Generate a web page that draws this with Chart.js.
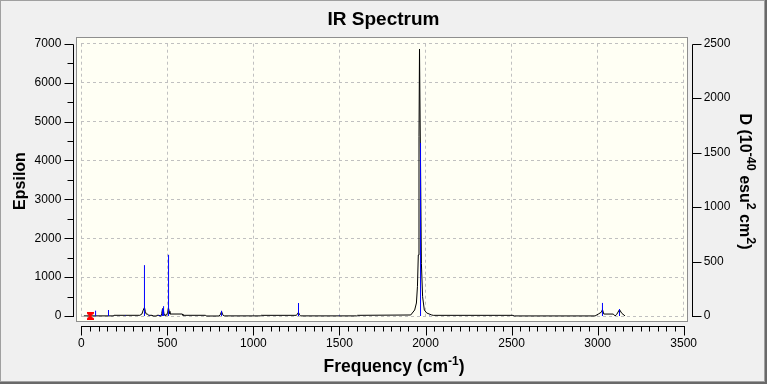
<!DOCTYPE html>
<html><head><meta charset="utf-8">
<script src="https://cdn.jsdelivr.net/npm/chart.js@4/dist/chart.umd.min.js"></script>
<style>html,body{margin:0;padding:0;background:#f0f0f0;overflow:hidden}</style>
</head><body><canvas id="c" width="767" height="384" style="display:block;width:767px;height:384px"></canvas>
<script>
// ---- data ----
const chartTitle = 'IR Spectrum';
const xTicks = [0, 500, 1000, 1500, 2000, 2500, 3000, 3500];
const yTicks = [0, 1000, 2000, 3000, 4000, 5000, 6000, 7000];
const y2Ticks = [0, 500, 1000, 1500, 2000, 2500];

const stickFreq = [83, 158, 256, 367, 397, 451, 459, 472, 478, 507, 815, 1262, 1499, 1971, 2024, 3028, 3127];
const stickD    = [49, 55, 5, 467, 6, 8, 9, 64, 90, 562, 48, 119, 3, 1589, 4, 120, 64];

const curveFreq = [15, 185, 190, 340, 352, 360, 367, 372, 377, 385, 390, 411, 414, 436, 439, 452, 455, 463, 467, 472, 477, 481, 485, 494, 501, 507, 511, 515, 587, 590, 722, 725, 800, 807, 815, 822, 830, 1040, 1045, 1250, 1255, 1262, 1268, 1275, 1600, 1605, 1914, 1937, 1947, 1953, 1958, 1962, 1965, 1976, 1983, 1993, 2007, 2036, 2045, 2509, 2515, 2985, 3004, 3022, 3028, 3036, 3091, 3101, 3110, 3127, 3140, 3159];
const curveEps  = [3, 3, 18, 18, 50, 154, 220, 120, 51, 51, 18, 18, 0, 0, 18, 18, 0, 0, 60, 190, 150, 40, 18, 18, 80, 200, 120, 51, 51, 18, 18, 0, 0, 30, 115, 30, 3, 3, 17, 17, 50, 95, 30, 3, 3, 17, 26, 154, 334, 754, 1568, 4610, 6864, 1354, 496, 154, 77, 26, 17, 17, 2, 2, 50, 100, 165, 50, 50, 3, 35, 165, 70, 3];

const markerFreq = [52];
const markerEps = [0];

// ---- build datasets ----
const curveData = curveFreq.map((f, i) => ({x: f, y: curveEps[i]}));
const stickData = [];
stickFreq.forEach((f, i) => { stickData.push({x: f, y: 0}, {x: f, y: stickD[i]}, {x: f, y: null}); });
const markerData = markerFreq.map((f, i) => ({x: f, y: markerEps[i]}));

// hourglass marker image
const hg = document.createElement('canvas');
hg.width = 7; hg.height = 8;
(function(){
  const c = hg.getContext('2d');
  c.fillStyle = '#ff0000';
  c.beginPath();
  c.moveTo(0,0); c.lineTo(7,0); c.lineTo(7,1.5); c.lineTo(4.5,4); c.lineTo(7,6.5); c.lineTo(7,8);
  c.lineTo(0,8); c.lineTo(0,6.5); c.lineTo(2.5,4); c.lineTo(0,1.5); c.closePath(); c.fill();
})();

const FONT = "'Liberation Sans', Arial, sans-serif";

function drawRich(ctx, cx, by, rot, segs, size, supSize, supRise) {
  ctx.save();
  ctx.translate(cx, by);
  ctx.rotate(rot);
  let total = 0;
  const w = segs.map(s => { ctx.font = 'bold ' + (s.sup ? supSize : size) + 'px ' + FONT; const m = ctx.measureText(s.t).width; total += m; return m; });
  let x = -total / 2;
  ctx.fillStyle = '#000';
  ctx.textBaseline = 'alphabetic';
  ctx.textAlign = 'left';
  segs.forEach((s, i) => {
    ctx.font = 'bold ' + (s.sup ? supSize : size) + 'px ' + FONT;
    ctx.fillText(s.t, x, s.sup ? -supRise : 0);
    x += w[i];
  });
  ctx.restore();
}

const framePlugin = {
  id: 'frame',
  beforeDraw(chart) {
    const ctx = chart.ctx;
    ctx.save();
    ctx.fillStyle = '#f0f0f0';
    ctx.fillRect(0, 0, 767, 384);
    ctx.fillStyle = '#a0a0a0';
    ctx.fillRect(0, 0, 1, 384);
    ctx.fillRect(0, 0, 767, 1);
    ctx.fillRect(764, 0, 1, 384);
    ctx.fillRect(0, 381, 767, 1);
    ctx.fillStyle = '#696969';
    ctx.fillRect(765, 0, 2, 384);
    ctx.fillRect(0, 382, 767, 2);
    // plot box
    ctx.fillStyle = '#fffff4';
    ctx.fillRect(76, 37, 612, 285);
    ctx.strokeStyle = '#8e8e8e';
    ctx.lineWidth = 1;
    ctx.strokeRect(76.5, 37.5, 611, 284);
    ctx.restore();
  },
  afterDraw(chart) {
    const ctx = chart.ctx;
    const xs = chart.scales.x, ys = chart.scales.y, y2s = chart.scales.y2;
    const P = v => Math.round(v) + 0.5;
    ctx.save();
    ctx.strokeStyle = '#000';
    ctx.lineWidth = 1;
    ctx.beginPath();
    const lx = 73.5;
    ctx.moveTo(lx, P(ys.getPixelForValue(7000)));
    ctx.lineTo(lx, P(ys.getPixelForValue(0)) + 0.5);
    for (let v = 0; v <= 7000; v += 500) {
      const len = v % 1000 === 0 ? 9 : 6;
      const py = P(ys.getPixelForValue(v));
      ctx.moveTo(lx - len, py); ctx.lineTo(lx, py);
    }
    const by = 326.5;
    ctx.moveTo(P(xs.getPixelForValue(0)) - 0.5, by);
    ctx.lineTo(P(xs.getPixelForValue(3500)) + 0.5, by);
    for (let v = 0; v <= 3500; v += 50) {
      const len = v % 500 === 0 ? 9 : 5;
      const px = P(xs.getPixelForValue(v));
      ctx.moveTo(px, by); ctx.lineTo(px, by + len);
    }
    const rx = 692.5;
    ctx.moveTo(rx, P(y2s.getPixelForValue(2500)));
    ctx.lineTo(rx, P(y2s.getPixelForValue(0)) + 0.5);
    for (let v = 0; v <= 2500; v += 500) {
      const py = P(y2s.getPixelForValue(v));
      ctx.moveTo(rx, py); ctx.lineTo(rx + 9, py);
    }
    ctx.stroke();
    ctx.restore();

    drawRich(ctx, 25, 181, -Math.PI / 2, [{t: 'Epsilon'}], 16, 12, 6);
    drawRich(ctx, 394, 372, 0, [{t: 'Frequency (cm'}, {t: '-1', sup: true}, {t: ')'}], 17.5, 12, 7);
    drawRich(ctx, 740, 181.5, Math.PI / 2, [{t: 'D (10'}, {t: '-40', sup: true}, {t: ' esu'}, {t: '2', sup: true}, {t: ' cm'}, {t: '2', sup: true}, {t: ')'}], 16, 12.5, 6.5);
  }
};

const tickFont = {family: FONT, size: 12};
const plain = v => String(v);

new Chart(document.getElementById('c'), {
  type: 'line',
  data: {
    datasets: [
      {label: 'marker', type: 'scatter', data: markerData, yAxisID: 'y', pointStyle: hg, pointRadius: 4, showLine: false, clip: false, order: 0},
      {label: 'sticks', data: stickData, yAxisID: 'y2', borderColor: '#0000ff', borderWidth: 1, pointRadius: 0, spanGaps: false, tension: 0, clip: false, order: 1},
      {label: 'spectrum', data: curveData, yAxisID: 'y', borderColor: '#000000', borderWidth: 1, pointRadius: 0, tension: 0, clip: false, order: 2}
    ]
  },
  options: {
    responsive: false,
    animation: false,
    devicePixelRatio: 1,
    layout: {padding: 0},
    plugins: {
      legend: {display: false},
      tooltip: {enabled: false},
      title: {display: true, text: chartTitle, color: '#000', font: {family: FONT, size: 19, weight: 'bold', lineHeight: 1.2}, padding: {top: 8.1, bottom: 12.8}}
    },
    scales: {
      x: {
        type: 'linear', position: 'bottom', min: 0, max: 3500,
        afterBuildTicks: s => { s.ticks = xTicks.map(v => ({value: v})); },
        afterFit: s => { s.height = 68; },
        ticks: {color: '#000', font: tickFont, padding: 20, maxRotation: 0, autoSkip: false, callback: plain},
        grid: {color: '#c0c0c0', lineWidth: 1, drawTicks: false},
        border: {display: false, dash: [3, 3]}
      },
      y: {
        type: 'linear', position: 'left', min: 0, max: 7000,
        afterBuildTicks: s => { s.ticks = yTicks.map(v => ({value: v})); },
        afterFit: s => { s.width = 81.3; },
        ticks: {color: '#000', font: tickFont, padding: 20, callback: plain},
        grid: {color: '#c0c0c0', lineWidth: 1, drawTicks: false},
        border: {display: false, dash: [3, 3]}
      },
      y2: {
        type: 'linear', position: 'right', min: 0, max: 2500,
        afterBuildTicks: s => { s.ticks = y2Ticks.map(v => ({value: v})); },
        afterFit: s => { s.width = 83.3; },
        ticks: {color: '#000', font: tickFont, padding: 20, callback: plain},
        grid: {drawOnChartArea: false, drawTicks: false},
        border: {display: false}
      }
    }
  },
  plugins: [framePlugin]
});
</script>
</body></html>
